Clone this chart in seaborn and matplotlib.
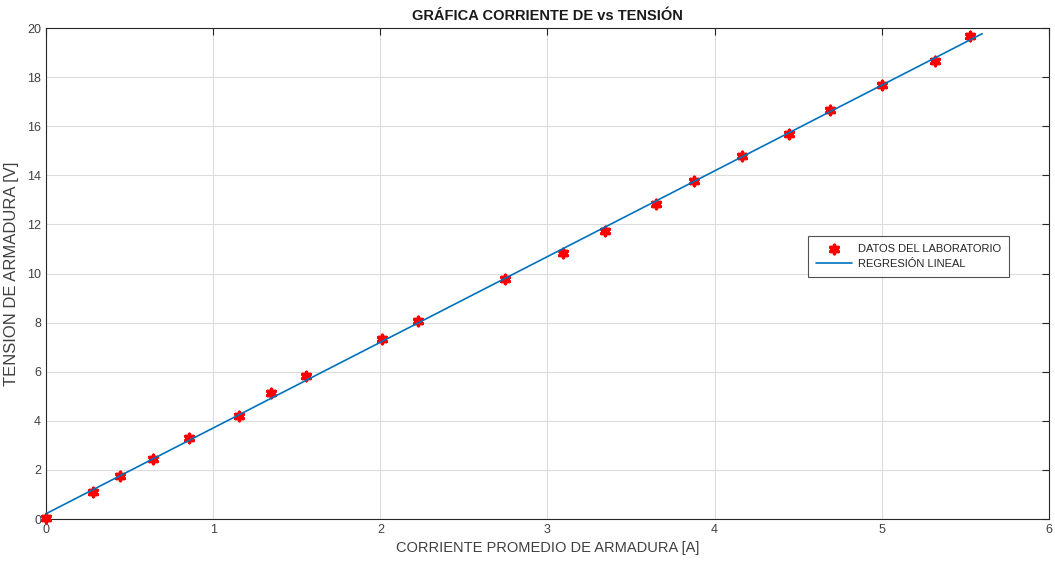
import numpy as np
import pandas as pd
import matplotlib
matplotlib.use("Agg")
import matplotlib.pyplot as plt
import seaborn as sns

corriente = [0.0, 0.281, 0.443, 0.64, 0.855, 1.154, 1.346, 1.555, 2.01, 2.225, 2.745,
             3.09, 3.343, 3.648, 3.876, 4.163, 4.444, 4.689, 5.0, 5.317, 5.526]
tension = [0.05, 1.10, 1.75, 2.44, 3.30, 4.20, 5.13, 5.82, 7.33, 8.07, 9.78,
           10.83, 11.73, 12.83, 13.77, 14.79, 15.68, 16.66, 17.68, 18.66, 19.67]
x_ticks = [0, 1, 2, 3, 4, 5, 6]
y_ticks = [0, 2, 4, 6, 8, 10, 12, 14, 16, 18, 20]
x_fit_range = [0.0, 5.6]

sns.set_style("white")
plt.rcParams['font.family'] = ['Liberation Sans', 'DejaVu Sans']

df = pd.DataFrame({"I": corriente, "V": tension})
m, b = np.polyfit(df["I"], df["V"], 1)
xf = np.linspace(x_fit_range[0], x_fit_range[1], 50)
fit = pd.DataFrame({"I": xf, "V": m * xf + b})

fig = plt.figure(figsize=(10.55, 5.65), dpi=100)
ax = fig.add_axes([0.0436, 0.0814, 0.9507, 0.869])

sns.scatterplot(data=df, x="I", y="V", ax=ax, marker=(6, 2, 0), s=35,
                color="red", edgecolor="red", linewidth=2.6,
                label="DATOS DEL LABORATORIO", zorder=3, clip_on=False)
sns.lineplot(data=fit, x="I", y="V", ax=ax, color="#0072BD", linewidth=1.2,
             label="REGRESIÓN LINEAL", zorder=4)

ax.set_xlim(0, 6)
ax.set_ylim(0, 20)
ax.set_xticks(x_ticks)
ax.set_yticks(y_ticks)
ax.grid(True, color="#dcdcdc", linewidth=0.8)
ax.set_axisbelow(True)
for s in ax.spines.values():
    s.set_color("#262626")
    s.set_linewidth(0.8)
ax.tick_params(direction="in", length=5, colors="#262626", labelsize=9,
               top=True, right=True, labelcolor="#404040")
ax.set_xlabel("CORRIENTE PROMEDIO DE ARMADURA [A]", fontsize=10.5, color="#404040")
ax.set_ylabel("TENSION DE ARMADURA [V]", fontsize=12, color="#404040", labelpad=6)
ax.set_title("GRÁFICA CORRIENTE DE vs TENSIÓN", fontsize=10.5, fontweight="bold",
             color="#1a1a1a", pad=6)

leg = ax.legend(loc="upper left", bbox_to_anchor=(0.760, 0.576), fontsize=8,
                frameon=True, fancybox=False, borderpad=0.7, handlelength=3.2,
                handletextpad=0.6, labelspacing=0.45, edgecolor="#262626",
                borderaxespad=0)
leg.get_frame().set_linewidth(0.8)

fig.savefig("out.png", dpi=100)
